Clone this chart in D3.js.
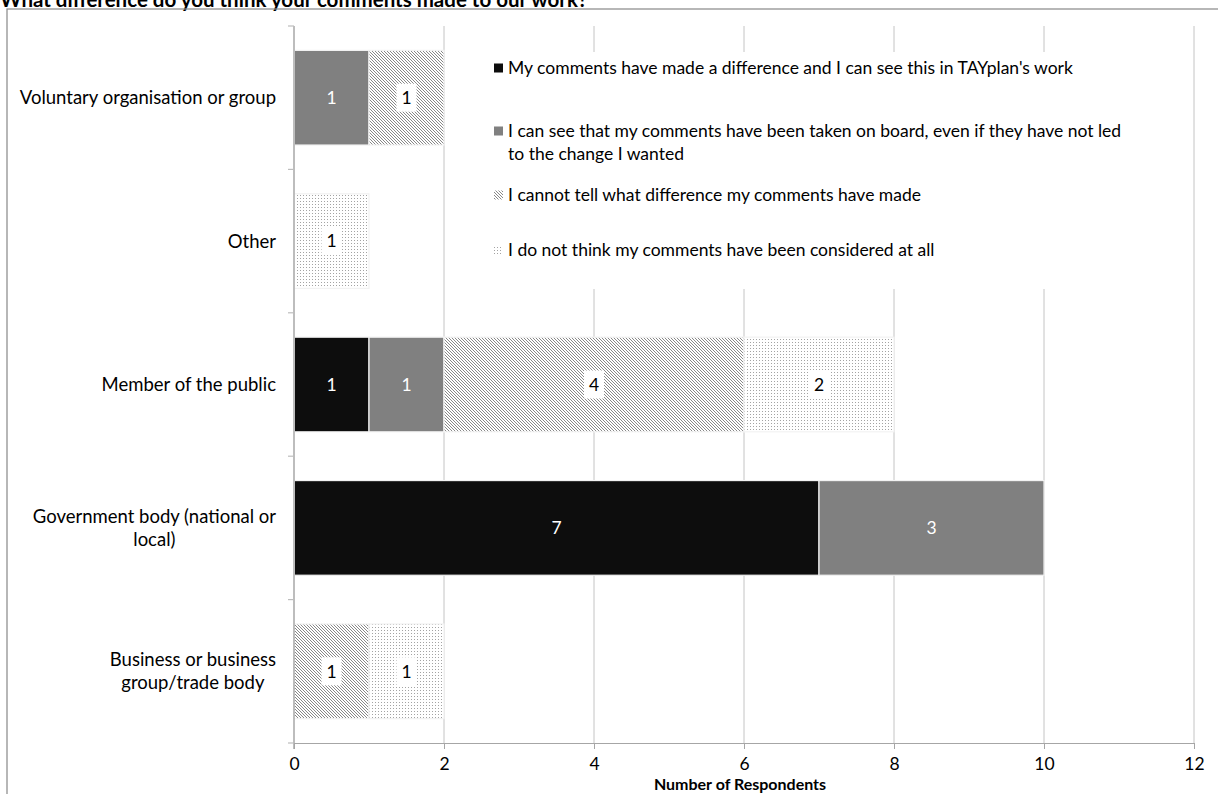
<!DOCTYPE html>
<html>
<head>
<meta charset="utf-8">
<script src="https://cdn.jsdelivr.net/npm/d3@7"></script>
<style>
  body { margin: 0; background: #fff; }
  svg { display: block; font-family: Lato, "Open Sans", sans-serif; }
</style>
</head>
<body>
<svg id="chart" width="1218" height="794"></svg>
<script>
// categories, top to bottom
var categories = ["Voluntary organisation or group", "Other", "Member of the public",
                  "Government body (national or local)", "Business or business group/trade body"];
var categoryLines = [["Voluntary organisation or group"], ["Other"], ["Member of the public"],
                     ["Government body (national or", "local)"], ["Business or business", "group/trade body"]];

var seriesNames = ["My comments have made a difference and I can see this in TAYplan's work",
                   "I can see that my comments have been taken on board, even if they have not led to the change I wanted",
                   "I cannot tell what difference my comments have made",
                   "I do not think my comments have been considered at all"];
var legendLines = [["My comments have made a difference and I can see this in TAYplan's work"],
                   ["I can see that my comments have been taken on board, even if they have not led", "to the change I wanted"],
                   ["I cannot tell what difference my comments have made"],
                   ["I do not think my comments have been considered at all"]];

// values per series, in category order
var madeDifference = [0, 0, 1, 7, 0];
var takenOnBoard   = [1, 0, 1, 3, 0];
var cannotTell     = [1, 0, 4, 0, 1];
var notConsidered  = [0, 1, 2, 0, 1];

var xTicks = [0, 2, 4, 6, 8, 10, 12];

var svg = d3.select("#chart");
var margin = {left: 294, right: 1194, top: 26, bottom: 743};

// patterns
var defs = svg.append("defs");
var hatch = defs.append("pattern").attr("id", "hatch")
    .attr("patternUnits", "userSpaceOnUse").attr("width", 3).attr("height", 3);
hatch.append("rect").attr("width", 3).attr("height", 3).attr("fill", "#fff");
hatch.append("path").attr("d", "M-1,2 l2,2 M0,0 l3,3 M2,-1 l2,2")
    .attr("stroke", "#7a7a7a").attr("stroke-width", 0.9);

var dots = defs.append("pattern").attr("id", "dots")
    .attr("patternUnits", "userSpaceOnUse").attr("width", 3).attr("height", 3);
dots.append("rect").attr("width", 3).attr("height", 3).attr("fill", "#fff");
dots.append("rect").attr("width", 1).attr("height", 1).attr("fill", "#a3a3a3");

var fills = ["#0d0d0d", "#808080", "url(#hatch)", "url(#dots)"];
var solid = [true, true, false, false];

var table = categories.map(function(c, i) {
  return {cat: c, s0: madeDifference[i], s1: takenOnBoard[i], s2: cannotTell[i], s3: notConsidered[i]};
});
var stack = d3.stack().keys(["s0", "s1", "s2", "s3"])(table);

var x = d3.scaleLinear().domain([0, 12]).range([margin.left, margin.right]);
var y = d3.scaleBand().domain(categories).range([margin.top, margin.bottom])
    .paddingInner(0.34).paddingOuter(0.17);

// title (cut off at top like the original)
svg.append("text").attr("x", 0).attr("y", 7)
    .attr("font-weight", "bold").attr("font-size", 20.5)
    .text("What difference do you think your comments made to our work?");

// frame
svg.append("rect").attr("x", 7).attr("y", 9).attr("width", 1250).attr("height", 820)
    .attr("fill", "none").attr("stroke", "#888").attr("stroke-width", 1.2);

// gridlines
svg.append("g").selectAll("line").data(xTicks.slice(1)).enter().append("line")
    .attr("x1", function(d) { return x(d); }).attr("x2", function(d) { return x(d); })
    .attr("y1", margin.top).attr("y2", margin.bottom)
    .attr("stroke", "#c4c4c4").attr("stroke-width", 1);

// legend background covers gridlines
svg.append("rect").attr("x", 470).attr("y", 52).attr("width", 712).attr("height", 237)
    .attr("fill", "#fff");

// bars
var layers = svg.append("g").selectAll("g").data(stack).enter().append("g");
layers.selectAll("rect").data(function(d, si) { return d.map(function(p) { p.si = si; return p; }); })
  .enter().filter(function(d) { return d[1] - d[0] > 0; }).append("rect")
    .attr("x", function(d) { return x(d[0]); })
    .attr("y", function(d) { return y(d.data.cat); })
    .attr("width", function(d) { return x(d[1]) - x(d[0]); })
    .attr("height", y.bandwidth())
    .attr("fill", function(d) { return fills[d.si]; })
    .attr("stroke", "#f2f2f2").attr("stroke-width", 1.2);

// data labels
var labels = svg.append("g").selectAll("g").data(stack).enter().append("g")
  .selectAll("g").data(function(d, si) { return d.map(function(p) { p.si = si; return p; }); })
  .enter().filter(function(d) { return d[1] - d[0] > 0; }).append("g")
    .attr("transform", function(d) {
      return "translate(" + x((d[0] + d[1]) / 2) + "," + (y(d.data.cat) + y.bandwidth() / 2) + ")";
    });
labels.filter(function(d) { return !solid[d.si]; }).append("rect")
    .attr("x", -10).attr("y", -14).attr("width", 20).attr("height", 28).attr("fill", "#fff");
labels.append("text")
    .attr("text-anchor", "middle").attr("dy", "0.36em").attr("font-size", 17.5)
    .attr("fill", function(d) { return solid[d.si] ? "#fff" : "#000"; })
    .text(function(d) { return d[1] - d[0]; });

// axes
svg.append("line").attr("x1", margin.left).attr("x2", margin.left)
    .attr("y1", margin.top).attr("y2", margin.bottom + 6)
    .attr("stroke", "#bdbdbd").attr("stroke-width", 2);
var bounds = categories.map(function(c) { return y(c) - y.step() * y.paddingInner() / 2; });
bounds.push(margin.bottom);
svg.append("g").selectAll("line").data(bounds).enter().append("line")
    .attr("x1", margin.left - 6).attr("x2", margin.left)
    .attr("y1", function(d) { return d; }).attr("y2", function(d) { return d; })
    .attr("stroke", "#bdbdbd").attr("stroke-width", 1.2);

var xAxis = svg.append("g").attr("transform", "translate(0," + margin.bottom + ")")
    .call(d3.axisBottom(x).tickValues(xTicks).tickSize(6).tickPadding(9).tickSizeOuter(0));
xAxis.select(".domain").attr("stroke", "#a6a6a6").attr("stroke-width", 1.2);
xAxis.selectAll(".tick line").attr("stroke", "#a6a6a6");
xAxis.selectAll(".tick text").attr("font-size", 17.5).attr("fill", "#000")
    .attr("font-family", "Lato, 'Open Sans', sans-serif");

svg.append("text").attr("x", 740).attr("y", 790)
    .attr("text-anchor", "middle").attr("font-weight", "bold").attr("font-size", 16)
    .text("Number of Respondents");

// category labels
var catG = svg.append("g").selectAll("text").data(categories).enter().append("text")
    .attr("font-size", 18.5).attr("fill", "#000");
catG.each(function(c, i) {
  var t = d3.select(this);
  var lines = categoryLines[i];
  var cy = y(c) + y.bandwidth() / 2;
  var lh = 23;
  lines.forEach(function(l, j) {
    t.append("tspan").attr("y", cy + (j - (lines.length - 1) / 2) * lh).attr("dy", "0.35em").text(l);
  });
});
// right-align the block, center the lines within it
catG.each(function() {
  var t = d3.select(this);
  var spans = t.selectAll("tspan").nodes();
  var maxW = d3.max(spans, function(s) { return s.getComputedTextLength(); });
  spans.forEach(function(s) {
    var w = s.getComputedTextLength();
    d3.select(s).attr("x", 276 - maxW + (maxW - w) / 2);
  });
});

// legend
var legendY = [68, 131, 195, 250];
var leg = svg.append("g").selectAll("g").data(seriesNames).enter().append("g")
    .attr("transform", function(d, i) { return "translate(494," + legendY[i] + ")"; });
leg.append("rect").attr("x", 0).attr("y", -4.5).attr("width", 9).attr("height", 9)
    .attr("fill", function(d, i) { return fills[i]; });
leg.append("text").attr("font-size", 17.5).attr("fill", "#000")
  .each(function(d, i) {
    var t = d3.select(this);
    legendLines[i].forEach(function(l, j) {
      t.append("tspan").attr("x", 14).attr("y", j * 23).attr("dy", "0.35em").text(l);
    });
  });
</script>
</body>
</html>
